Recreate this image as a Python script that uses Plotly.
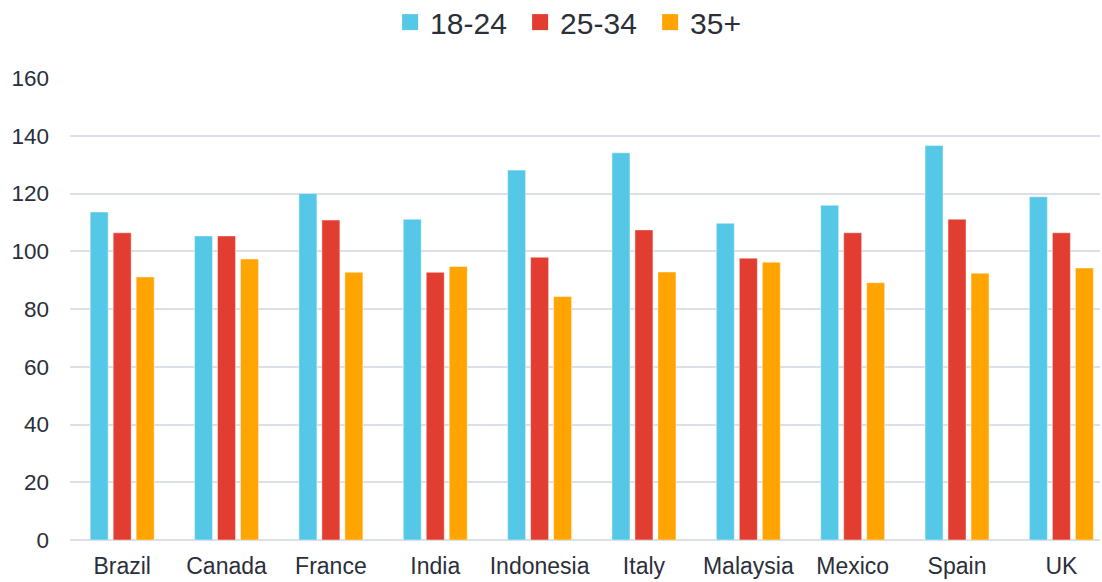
import plotly.graph_objects as go

countries = ["Brazil", "Canada", "France", "India", "Indonesia", "Italy",
             "Malaysia", "Mexico", "Spain", "UK"]
age_18_24 = [113.6, 105.3, 120.0, 111.1, 128.1, 134.1, 109.7, 115.9, 136.6, 118.9]
age_25_34 = [106.4, 105.3, 110.8, 92.7, 97.9, 107.4, 97.6, 106.4, 111.1, 106.4]
age_35_plus = [91.1, 97.3, 92.7, 94.7, 84.3, 92.8, 96.2, 89.1, 92.4, 94.2]
series_names = ["18-24", "25-34", "35+"]
colors = ["#55C8E8", "#E23D31", "#FFA400"]
y_ticks = [0, 20, 40, 60, 80, 100, 120, 140, 160]

TXT = "#2b2f3a"
FONT = "Liberation Sans, Arial, sans-serif"

fig = go.Figure()
for name, vals, col in zip(series_names, [age_18_24, age_25_34, age_35_plus], colors):
    fig.add_trace(go.Bar(
        x=countries, y=vals, name=name, showlegend=False,
        marker=dict(color=col, line=dict(color="rgba(255,255,255,0.45)", width=1)),
    ))
for name, col in zip(series_names, colors):
    fig.add_trace(go.Scatter(
        x=[None], y=[None], mode="markers", name=name,
        marker=dict(symbol="square", size=17, color=col),
    ))

fig.update_layout(
    width=1102, height=582,
    margin=dict(l=70, r=2, t=78, b=42),
    paper_bgcolor="white", plot_bgcolor="white",
    barmode="group", bargap=0.339, bargroupgap=0.217,
    font=dict(family=FONT, color=TXT, size=23),
    legend=dict(
        orientation="h", xref="container", yref="container",
        x=0.354, xanchor="left", y=0.962, yanchor="middle",
        font=dict(size=30, color=TXT, family=FONT),
        itemsizing="trace", bgcolor="rgba(0,0,0,0)",
        entrywidth=85, entrywidthmode="pixels",
    ),
    xaxis=dict(
        type="category", range=[-0.5, 9.37],
        showgrid=False, showline=False, zeroline=False,
        tickfont=dict(size=23, color=TXT), ticks="",
        ticklabelstandoff=10,
    ),
    yaxis=dict(
        range=[0, 160], tickvals=y_ticks,
        showgrid=True, gridcolor="#dcdfe7", gridwidth=2,
        zeroline=True, zerolinecolor="#dcdfe7", zerolinewidth=2,
        showline=False, ticks="",
        tickfont=dict(size=22.5, color=TXT),
        ticklabelstandoff=20,
    ),
)

fig.write_html("out.html")
